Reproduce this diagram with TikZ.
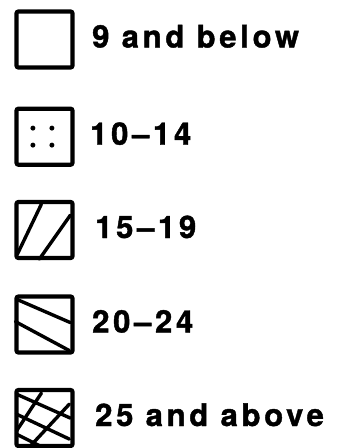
\documentclass[tikz,border=0pt]{standalone}
\usepackage{fontspec}
\setmainfont{TeX Gyre Heros}
\usepackage{tikz}
\usetikzlibrary{positioning}

\begin{document}
\begin{tikzpicture}[x=1pt, y=1pt,
  caja/.style={rectangle, draw=black, line width=4.2pt, rounded corners=2pt,
    minimum size=56pt, inner sep=0pt},
  rayado/.style={line width=3.4pt, line cap=round},
  rotulo/.style={anchor=base west, inner sep=0pt,
    font=\addfontfeatures{LetterSpace=12,FakeBold=1.3}\fontsize{31}{31}\selectfont\bfseries},
]
\useasboundingbox (0,0) rectangle (337,-448);
\foreach \i/\y/\x/\lab in {1/39.5/92/9 and below, 2/136.7/90/10–14,
    3/230/95/15–19, 4/324.5/92/20–24, 5/418/95/25 and above} {
  \node[caja] (b\i) at (44.5,-\y) {};
  \node[rotulo] (t\i) at (\x,-\y-8) {\lab};
}
% puntos
\begin{scope}[shift={(b2.south west)}]
  \foreach \px in {18.5,37.5}
    \foreach \py in {21.7,38.7}
      \fill (\px,\py) circle (2.5pt);
\end{scope}
% rayas
\begin{scope}[shift={(b3.south west)}]
  \draw[rayado] (3,6) -- (27,56);
  \draw[rayado] (25,1) -- (56,45);
\end{scope}
\begin{scope}[shift={(b4.south west)}]
  \draw[rayado] (3,55) -- (56,32);
  \draw[rayado] (1,33) -- (55,4);
\end{scope}
\begin{scope}[shift={(b5.south west)}]
  \draw[rayado] (2,17) -- (27,55);
  \draw[rayado] (14,0) -- (55,44);
  \draw[rayado] (2,54) -- (56,30);
  \draw[rayado] (2,34) -- (55,9);
  \draw[rayado] (2,14) -- (30,0);
\end{scope}
\end{tikzpicture}
\end{document}
